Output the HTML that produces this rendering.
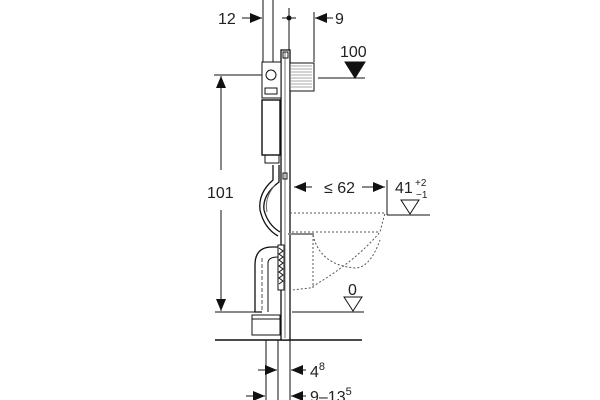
<!DOCTYPE html>
<html><head><style>
html,body{margin:0;padding:0;background:#fff;}
svg{display:block;}
text{font-family:"Liberation Sans",sans-serif;fill:#222;}
</style></head><body>
<svg width="600" height="400" viewBox="0 0 600 400" xmlns="http://www.w3.org/2000/svg">
<defs>
<marker id="a" markerWidth="12" markerHeight="10" refX="12" refY="5" orient="auto" markerUnits="userSpaceOnUse"><path d="M0,0 L12,5 L0,10 Z" fill="#111"/></marker>
</defs>
<g stroke="#111" stroke-width="1" fill="none">
<line x1="263" y1="0" x2="263" y2="62"/>
<line x1="273" y1="0" x2="273" y2="62"/>
<line x1="289" y1="8" x2="289" y2="50"/>
<line x1="314" y1="12" x2="314" y2="62"/>
<line x1="242" y1="18" x2="262" y2="18" marker-end="url(#a)"/>
<line x1="282" y1="18" x2="296" y2="18"/>
<line x1="333" y1="18" x2="315" y2="18" marker-end="url(#a)"/>
<line x1="318" y1="78" x2="365" y2="78"/>
<line x1="214" y1="75" x2="262" y2="75"/>
<line x1="221" y1="170" x2="221" y2="76" marker-end="url(#a)"/>
<line x1="221" y1="210" x2="221" y2="311" marker-end="url(#a)"/>
<line x1="215" y1="312" x2="262" y2="312"/>
<line x1="292" y1="312" x2="364" y2="312"/>
<line x1="215" y1="340" x2="362" y2="340" stroke-width="1.4"/>
<line x1="312" y1="187" x2="294" y2="187" marker-end="url(#a)"/>
<line x1="362" y1="187" x2="385" y2="187" marker-end="url(#a)"/>
<line x1="387" y1="180" x2="387" y2="215"/>
<line x1="387" y1="215" x2="430" y2="215"/>
<rect x="281" y="50" width="9" height="290" fill="#fff" stroke-width="1.3"/>
<line x1="285" y1="52" x2="285" y2="338" stroke="#777"/>
<rect x="283" y="52" width="5" height="6"/>
<rect x="283" y="173" width="4" height="6"/>
<rect x="290" y="63" width="24" height="28" fill="#fff"/>
<g stroke="#555" stroke-width="0.6">
<line x1="291" y1="66" x2="312" y2="66"/><line x1="291" y1="69" x2="312" y2="69"/><line x1="291" y1="72" x2="312" y2="72"/><line x1="291" y1="75" x2="312" y2="75"/><line x1="291" y1="78" x2="312" y2="78"/><line x1="291" y1="81" x2="312" y2="81"/><line x1="291" y1="84" x2="312" y2="84"/><line x1="291" y1="87" x2="312" y2="87"/>
</g>
<rect x="262" y="62" width="19" height="36" fill="#fff"/>
<circle cx="271" cy="75" r="5"/>
<rect x="265" y="88" width="12" height="6"/>
<rect x="262" y="100" width="18" height="55" fill="#fff" stroke-width="1.4"/>
<rect x="265" y="155" width="14" height="8"/>
<path d="M279,165 L279,182 Q262,195 264,210 Q268,225 280,232" stroke-width="1.3"/>
<path d="M273,165 L273,180 Q258,193 260,210 Q264,228 278,236" stroke-width="1.3"/>
<path d="M275,185 Q264,198 267,212" stroke="#666"/>
<g stroke="#555" stroke-dasharray="2,2">
<path d="M290,213 L385,213 L380,232 Q355,262 310,288 L292,290"/>
<path d="M292,232 L380,232"/>
<path d="M313,235 Q320,265 355,268 Q370,268 380,240"/>
<line x1="313" y1="235" x2="313" y2="288"/>
</g>
<line x1="288" y1="234" x2="314" y2="234" stroke="#888" stroke-width="2"/>
<path d="M262,312 L255,312 L255,265 Q255,247 272,247 L280,247" stroke-width="1.3"/>
<path d="M268,312 L268,263 Q268,257 278,257" stroke-width="1"/>
<line x1="262" y1="258" x2="262" y2="312" stroke-dasharray="4,2" stroke="#555"/>
<rect x="278" y="245" width="6" height="45" fill="#fff"/>
<path d="M279,248 l4,3 l-4,3 l4,3 l-4,3 l4,3 l-4,3 l4,3 l-4,3 l4,3 l-4,3 l4,3 l-4,3" stroke-width="1"/>
<rect x="252" y="315" width="28" height="20" fill="#fff"/>
<line x1="252" y1="319" x2="280" y2="319"/>
<line x1="266" y1="340" x2="266" y2="400"/>
<line x1="278" y1="340" x2="278" y2="400"/>
<line x1="290" y1="340" x2="290" y2="400"/>
<line x1="258" y1="370" x2="277" y2="370" marker-end="url(#a)"/>
<line x1="306" y1="370" x2="291" y2="370" marker-end="url(#a)"/>
<line x1="246" y1="396" x2="265" y2="396" marker-end="url(#a)"/>
<line x1="306" y1="396" x2="291" y2="396" marker-end="url(#a)"/>
<path d="M345,62 L365,62 L355,78 Z" fill="#111"/>
<path d="M344,297 L362,297 L353,311 Z" fill="#fff"/>
<path d="M401,200 L419,200 L410,214 Z" fill="#fff"/>
</g>
<circle cx="289" cy="18" r="2.5" fill="#111"/>
<g font-size="16">
<text x="218" y="24">12</text>
<text x="335" y="24">9</text>
<text x="340" y="57">100</text>
<rect x="206" y="182" width="30" height="18" fill="#fff"/>
<text x="207" y="198">101</text>
<text x="324" y="193">≤ 62</text>
<text x="395" y="193">41</text>
<text x="415" y="186" font-size="10">+2</text>
<text x="416" y="198" font-size="10">−1</text>
<text x="348" y="295">0</text>
<text x="310" y="377">4<tspan font-size="11" dy="-7">8</tspan></text>
<text x="310" y="402">9–13<tspan font-size="11" dy="-7">5</tspan></text>
</g>
</svg>
</body></html>
